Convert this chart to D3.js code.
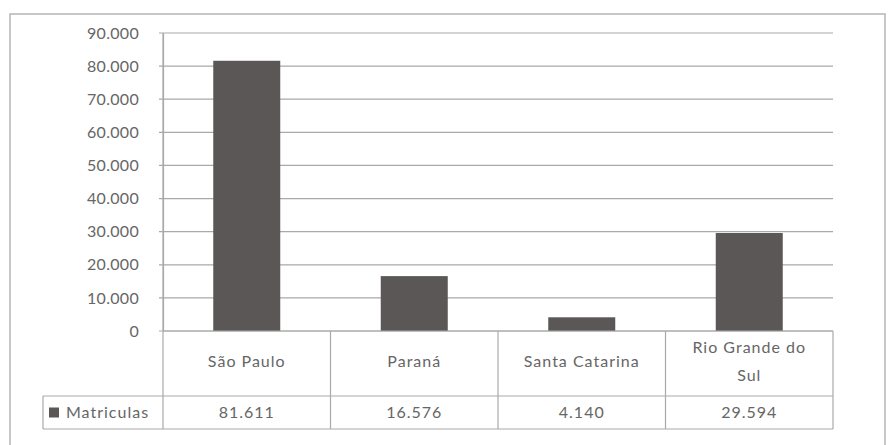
<!DOCTYPE html>
<html><head><meta charset="utf-8">
<script src="https://cdn.jsdelivr.net/npm/d3@7"></script>
<style>body{margin:0;background:#fff;}svg{display:block;}text{font-family:Lato,"Open Sans",sans-serif;}</style>
</head><body><svg id="c" width="889" height="445"></svg>
<script>
const categories = ["São Paulo", "Paraná", "Santa Catarina", "Rio Grande do Sul"];
const categoryLines = [["São Paulo"], ["Paraná"], ["Santa Catarina"], ["Rio Grande do", "Sul"]];
const seriesName = "Matriculas";
const values = [81611, 16576, 4140, 29594];
const yTicks = [0, 10000, 20000, 30000, 40000, 50000, 60000, 70000, 80000, 90000];

const svg = d3.select("#c");
const loc = d3.formatLocale({decimal: ",", thousands: ".", grouping: [3], currency: ["", ""]});
const fmt = loc.format(",d");

const L = 163, R = 833, T = 33, B = 331;
const headBottom = 396, tableBottom = 429, rowHeadLeft = 43;
const textCol = "#666", gridCol = "#a9a9a9";

// outer frame
svg.append("rect").attr("x", 10).attr("y", 14).attr("width", 875).attr("height", 450)
  .attr("fill", "none").attr("stroke", "#b5b5b5").attr("stroke-width", 1.5);

const x = d3.scaleBand().domain(categories).range([L, R]).paddingInner(0).paddingOuter(0);
const y = d3.scaleLinear().domain([0, 90000]).range([B, T]);

// gridlines
svg.append("g").selectAll("line").data(yTicks).join("line")
  .attr("x1", L - 4).attr("x2", R).attr("y1", d => y(d)).attr("y2", d => y(d))
  .attr("stroke", gridCol).attr("stroke-width", 1.2);

// y axis
const yAxis = d3.axisLeft(y).tickValues(yTicks).tickFormat(fmt).tickSize(0).tickPadding(24);
const gy = svg.append("g").attr("transform", `translate(${L},0)`).call(yAxis);
gy.select(".domain").attr("stroke", gridCol).attr("stroke-width", 1.2);
gy.selectAll("text").attr("fill", textCol).attr("font-size", 16).attr("letter-spacing", 0.3)
  .attr("font-family", "Lato, sans-serif");

// bars
const bw = x.bandwidth() * 0.4;
svg.append("g").selectAll("rect").data(values).join("rect")
  .attr("x", (d, i) => x(categories[i]) + (x.bandwidth() - bw) / 2)
  .attr("width", bw)
  .attr("y", d => y(d)).attr("height", d => y(0) - y(d))
  .attr("fill", "#5b5757");

// data table
const tg = svg.append("g").attr("stroke", gridCol).attr("stroke-width", 1.2);
tg.append("line").attr("x1", L).attr("x2", L).attr("y1", T).attr("y2", tableBottom);
categories.forEach(c => {
  tg.append("line").attr("x1", x(c) + x.bandwidth()).attr("x2", x(c) + x.bandwidth())
    .attr("y1", B).attr("y2", tableBottom);
});
tg.append("line").attr("x1", L).attr("x2", R).attr("y1", B).attr("y2", B);
tg.append("line").attr("x1", rowHeadLeft).attr("x2", R).attr("y1", headBottom).attr("y2", headBottom);
tg.append("line").attr("x1", rowHeadLeft).attr("x2", R).attr("y1", tableBottom).attr("y2", tableBottom);
tg.append("line").attr("x1", rowHeadLeft).attr("x2", rowHeadLeft).attr("y1", headBottom).attr("y2", tableBottom);

// category labels
const lab = svg.append("g").attr("fill", textCol).attr("font-size", 16).attr("letter-spacing", 1)
  .attr("text-anchor", "middle");
categories.forEach((c, i) => {
  const lines = categoryLines[i];
  const mid = 361;
  const lh = 28;
  lines.forEach((ln, j) => {
    lab.append("text").attr("x", x(c) + x.bandwidth() / 2)
      .attr("y", mid + (j - (lines.length - 1) / 2) * lh)
      .attr("dy", "0.35em").text(ln);
  });
  lab.append("text").attr("x", x(c) + x.bandwidth() / 2)
    .attr("y", (headBottom + tableBottom) / 2).attr("dy", "0.35em").text(fmt(values[i]));
});

// legend key + series name
const ry = (headBottom + tableBottom) / 2;
svg.append("rect").attr("x", 49).attr("y", ry - 5).attr("width", 10).attr("height", 10).attr("fill", "#5b5757");
svg.append("text").attr("x", 66).attr("y", ry).attr("dy", "0.35em")
  .attr("fill", textCol).attr("font-size", 16).attr("letter-spacing", 1).text(seriesName);
</script></body></html>
